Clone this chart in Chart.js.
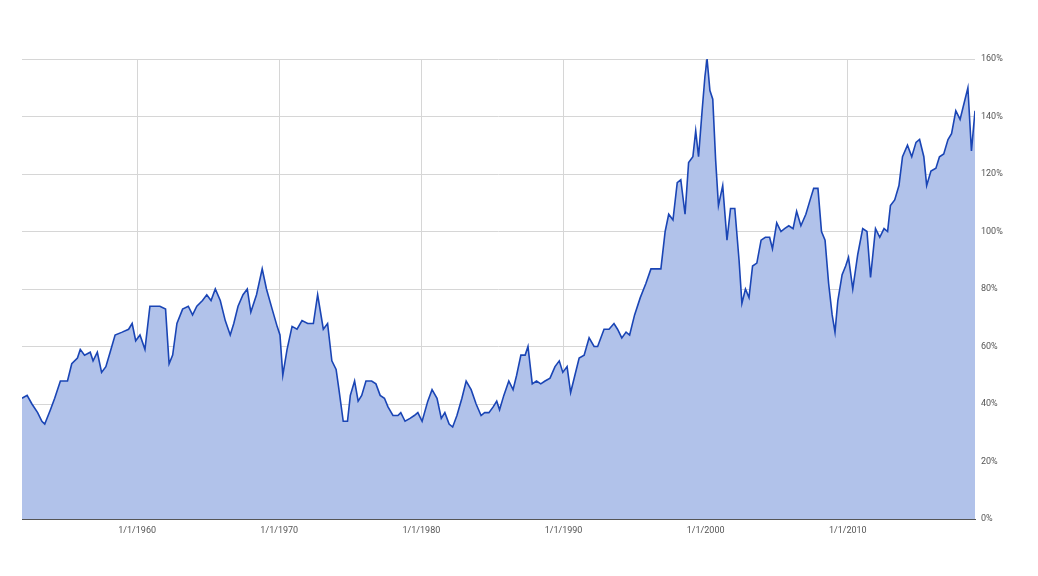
<!DOCTYPE html>
<html><head><meta charset="utf-8">
<script src="https://cdn.jsdelivr.net/npm/chart.js@4"></script>
<style>html,body{margin:0;background:#fff}#wrap{width:1038px;height:576px}</style>
</head><body><div id="wrap"><canvas id="c"></canvas></div>
<script>
// valores (ano decimal, %)
const anos=[1951.9,1952.26,1952.6,1953.0,1953.3,1953.5,1953.9,1954.2,1954.6,1955.1,1955.4,1955.8,1956.0,1956.3,1956.7,1956.9,1957.2,1957.5,1957.8,1958.1,1958.45,1958.95,1959.4,1959.65,1959.9,1960.2,1960.55,1960.9,1961.25,1961.6,1962.0,1962.25,1962.5,1962.8,1963.2,1963.6,1963.9,1964.2,1964.6,1964.9,1965.2,1965.5,1965.85,1966.2,1966.55,1966.8,1967.1,1967.45,1967.75,1968.0,1968.4,1968.8,1969.1,1969.5,1969.85,1970.05,1970.25,1970.55,1970.9,1971.25,1971.6,1972.0,1972.4,1972.7,1973.1,1973.4,1973.7,1974.0,1974.2,1974.5,1974.8,1975.0,1975.3,1975.55,1975.8,1976.1,1976.5,1976.8,1977.1,1977.4,1977.65,1978.0,1978.35,1978.55,1978.85,1979.2,1979.5,1979.75,1980.05,1980.45,1980.75,1981.1,1981.4,1981.65,1981.95,1982.2,1982.5,1982.85,1983.15,1983.5,1983.85,1984.2,1984.45,1984.75,1985.05,1985.3,1985.5,1985.8,1986.15,1986.45,1986.7,1987.0,1987.3,1987.5,1987.8,1988.1,1988.4,1988.7,1989.05,1989.4,1989.7,1989.95,1990.25,1990.5,1990.8,1991.1,1991.45,1991.8,1992.15,1992.4,1992.85,1993.2,1993.55,1993.8,1994.1,1994.4,1994.65,1995.0,1995.4,1995.8,1996.15,1996.5,1996.85,1997.15,1997.4,1997.7,1998.0,1998.25,1998.55,1998.8,1999.1,1999.3,1999.5,1999.75,1999.95,2000.1,2000.3,2000.5,2000.7,2000.9,2001.2,2001.5,2001.75,2002.05,2002.35,2002.55,2002.8,2003.05,2003.3,2003.6,2003.9,2004.2,2004.5,2004.7,2005.0,2005.3,2005.55,2005.85,2006.15,2006.4,2006.7,2007.05,2007.35,2007.6,2007.9,2008.15,2008.4,2008.65,2008.9,2009.1,2009.3,2009.6,2009.85,2010.05,2010.35,2010.7,2011.05,2011.35,2011.6,2011.95,2012.25,2012.55,2012.8,2013.0,2013.3,2013.6,2013.85,2014.2,2014.5,2014.8,2015.05,2015.35,2015.55,2015.85,2016.2,2016.45,2016.75,2017.05,2017.3,2017.6,2017.9,2018.15,2018.45,2018.7,2018.95];
const valores=[42,43,40,37,34,33,38,42,48,48,54,56,59,57,58,55,58,51,53,58,64,65,66,68,62,64,59,74,74,74,73,54,57,68,73,74,71,74,76,78,76,80,76,69,64,68,74,78,80,72,78,87,80,73,67,64,50,59,67,66,69,68,68,78,66,68,55,52,45,34,34,43,48,41,43,48,48,47,43,42,39,36,36,37,34,35,36,37,34,41,45,42,35,37,33,32,36,42,48,45,40,36,37,37,39,41,38,43,48,45,50,57,57,60,47,48,47,48,49,53,55,51,53,44,50,56,57,63,60,60,66,66,68,66,63,65,64,71,77,82,87,87,87,100,106,104,117,118,106,124,126,135,126,142,154,160,149,146,125,109,116,97,108,108,90,75,80,77,88,89,97,98,98,94,103,100,101,102,101,107,102,106,111,115,115,100,97,82,71,65,76,85,88,91,80,92,101,100,84,101,98,101,100,109,111,116,126,130,126,131,132,126,116,121,122,126,127,132,134,142,139,144,150,128,142];
const ticksX=[1960,1970,1980,1990,2000,2010];
const ticksY=[0,20,40,60,80,100,120,140,160];

const pontos=anos.map((a,i)=>({x:a,y:valores[i]}));
new Chart(document.getElementById('c'),{type:'line',
  data:{datasets:[{data:pontos,borderColor:'#1a45b5',backgroundColor:'#b1c2ea',fill:'origin',borderWidth:1.6,pointRadius:0,tension:0}]},
  options:{responsive:true,maintainAspectRatio:false,animation:false,
    layout:{padding:{top:59,left:22,right:0,bottom:0}},
    plugins:{legend:{display:false},tooltip:{enabled:false}},
    scales:{
      x:{type:'linear',min:anos[0],max:anos[anos.length-1],
        afterBuildTicks:ax=>{ax.ticks=ticksX.map(v=>({value:v}));},
        afterFit:ax=>{ax.height=57;},
        grid:{color:'#d6d6d6',drawTicks:false},border:{color:'#555'},
        ticks:{callback:v=>'1/1/'+v,color:'#555',font:{size:9,family:'Roboto'},maxRotation:0,padding:6}},
      y:{position:'right',min:0,max:160,
        afterBuildTicks:ax=>{ax.ticks=ticksY.map(v=>({value:v}));},
        afterFit:ax=>{ax.width=63;},
        grid:{color:'#d6d6d6',drawTicks:false},border:{display:false},
        ticks:{callback:v=>v+'%',color:'#555',font:{size:9,family:'Roboto'},padding:6}}
    }}});
</script></body></html>
